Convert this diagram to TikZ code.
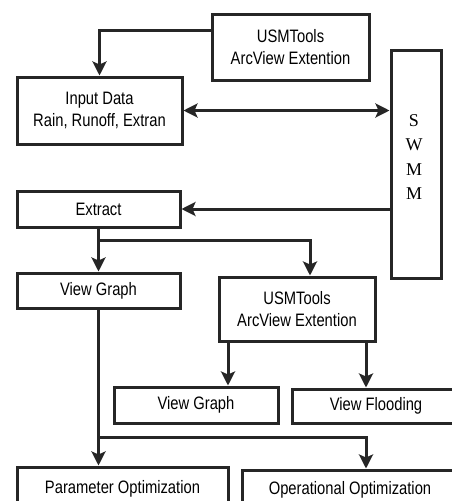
\documentclass[tikz,border=0pt]{standalone}
\usepackage{fontspec}
\setmainfont{Liberation Sans}
\newfontfamily\narrowsans[FakeStretch=0.82]{Liberation Sans}
\newfontfamily\serifswmm{Liberation Serif}
\usetikzlibrary{arrows.meta}
\begin{document}
\begin{tikzpicture}[x=1pt,y=-1pt,
  box/.style={draw=black!85,line width=3pt,fill=white,inner sep=0pt,align=center,
    font=\narrowsans\fontsize{18}{22}\selectfont},
  arr/.style={line width=3pt,draw=black!85,-{Stealth[length=14pt,width=14pt,inset=3pt]}},
  darr/.style={line width=3pt,draw=black!85,{Stealth[length=14pt,width=14pt,inset=3pt]}-{Stealth[length=14pt,width=14pt,inset=3pt]}}]
\clip (0,0) rectangle (452,501);
\fill[white] (0,0) rectangle (452,501);
\node[box,minimum width=157pt,minimum height=66pt] (usm1) at (290.5,47) {USMTools\\ArcView Extention};
\node[box,minimum width=165pt,minimum height=67pt] (input) at (99.5,110.5) {Input Data\\Rain, Runoff, Extran};
\node[box,minimum width=50pt,minimum height=228pt,
  label={[font=\serifswmm\fontsize{18}{24.5}\selectfont,align=center,xshift=-2pt,yshift=7pt]center:S\\W\\M\\M}] (swmm) at (416,164) {};
\node[box,minimum width=163pt,minimum height=36pt] (extract) at (98.5,209) {Extract};
\node[box,minimum width=163pt,minimum height=35pt] (vg1) at (98.5,290.5) {View Graph};
\node[box,minimum width=156pt,minimum height=64pt] (usm2) at (297,309) {USMTools\\ArcView Extention};
\node[box,minimum width=164pt,minimum height=36pt] (vg2) at (196,405) {View Graph};
\node[box,minimum width=168pt,minimum height=34pt] (vf) at (376,406) {View Flooding};
\node[box,minimum width=211pt,minimum height=43pt] (po) at (122.5,488.5) {Parameter Optimization};
\node[box,minimum width=216pt,minimum height=40pt] (oo) at (350,490) {Operational Optimization};
\coordinate (j1) at (98.5,240);
\coordinate (j2) at (98.5,437);
% connectors
\draw[arr] ([yshift=17pt]usm1.west) -| (input.north);
\draw[darr] (input.east) -- (input.east -| swmm.west);
\draw[arr] (extract.east -| swmm.west) -- (extract.east);
\draw[arr] (extract.south) -- (vg1.north);
\draw[arr] (j1) -| ([xshift=13pt]usm2.north);
\draw[arr] ([xshift=-69pt]usm2.south) -- ([xshift=-69pt]usm2.south |- vg2.north);
\draw[arr] ([xshift=69pt]usm2.south) -- ([xshift=69pt]usm2.south |- vf.north);
\draw[arr] (vg1.south) -- (vg1.south |- po.north);
\draw[arr] (j2) -| ([xshift=16pt]oo.north);
\end{tikzpicture}
\end{document}
